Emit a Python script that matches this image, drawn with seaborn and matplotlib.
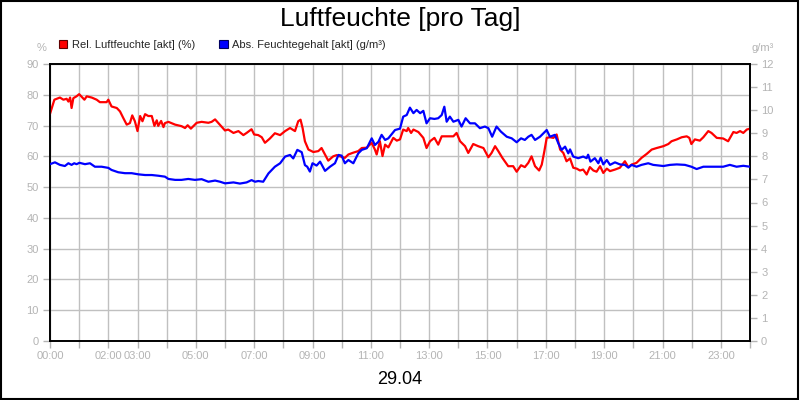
import matplotlib
matplotlib.use("Agg")
import matplotlib.pyplot as plt
from matplotlib.patches import Patch, Rectangle
import seaborn as sns
import pandas as pd

# ---------------- data ----------------
rel_hours = [0.00, 0.15, 0.34, 0.46, 0.57, 0.63, 0.69, 0.74, 0.80, 0.91, 1.00, 1.18, 1.26, 1.43, 1.60,
             1.71, 1.94, 2.00, 2.11, 2.29, 2.40, 2.51, 2.63, 2.74, 2.82, 2.91, 3.00, 3.09, 3.17, 3.26,
             3.37, 3.49, 3.58, 3.66, 3.71, 3.81, 3.89, 3.94, 4.06, 4.29, 4.51, 4.63, 4.72, 4.83, 5.03,
             5.20, 5.43, 5.54, 5.66, 5.83, 6.00, 6.11, 6.29, 6.46, 6.63, 6.74, 6.91, 7.00, 7.14, 7.26,
             7.37, 7.54, 7.71, 7.89, 8.06, 8.23, 8.40, 8.51, 8.59, 8.66, 8.74, 8.86, 9.03, 9.20, 9.31,
             9.43, 9.54, 9.71, 9.83, 9.94, 10.11, 10.23, 10.40, 10.57, 10.69, 10.86, 11.03, 11.14, 11.20,
             11.31, 11.40, 11.49, 11.60, 11.77, 11.89, 12.00, 12.11, 12.23, 12.28, 12.38, 12.46, 12.63,
             12.80, 12.91, 13.03, 13.18, 13.31, 13.43, 13.66, 13.83, 13.94, 14.06, 14.23, 14.34, 14.51,
             14.68, 14.86, 15.03, 15.14, 15.26, 15.37, 15.51, 15.71, 15.88, 16.00, 16.15, 16.28, 16.40,
             16.51, 16.63, 16.77, 16.86, 16.95, 17.03, 17.14, 17.26, 17.37, 17.49, 17.60, 17.71, 17.83,
             17.94, 18.06, 18.17, 18.28, 18.40, 18.51, 18.63, 18.74, 18.86, 18.97, 19.09, 19.20, 19.37,
             19.54, 19.71, 19.83, 19.94, 20.11, 20.28, 20.46, 20.63, 20.80, 21.03, 21.20, 21.31, 21.49,
             21.66, 21.83, 21.92, 21.99, 22.11, 22.28, 22.40, 22.57, 22.68, 22.86, 23.08, 23.25, 23.43,
             23.54, 23.66, 23.77, 23.89, 24.00]
rel_values = [73.8, 78.4, 79.1, 78.4, 78.7, 77.8, 79.1, 75.7, 78.9, 79.5, 80.2, 78.4, 79.5, 79.1, 78.4,
              77.6, 77.6, 78.4, 76.2, 75.7, 74.6, 72.5, 70.3, 70.8, 73.3, 71.4, 68.2, 73.1, 71.4, 73.7,
              73.1, 73.1, 69.9, 71.7, 69.9, 71.5, 69.5, 70.8, 71.2, 70.3, 69.8, 69.2, 70.1, 69.0, 70.9,
              71.2, 70.9, 71.2, 72.0, 70.2, 68.4, 68.7, 67.6, 68.2, 66.9, 67.6, 68.8, 67.1, 66.9, 66.2,
              64.4, 65.8, 67.5, 66.9, 68.2, 69.2, 68.2, 71.4, 71.9, 69.2, 64.9, 62.2, 61.4, 61.7, 62.7,
              60.6, 58.6, 60.0, 60.4, 60.0, 59.5, 60.6, 61.2, 61.7, 62.7, 62.8, 64.4, 62.2, 60.6,
              64.9, 60.1, 63.8, 62.9, 66.0, 65.1, 65.5, 68.7, 68.2, 69.2, 67.6, 68.7, 67.9,
              66.0, 62.7, 64.9, 66.0, 63.8, 66.5, 66.5, 66.5, 67.6, 64.9, 63.3, 61.1, 64.0,
              63.3, 62.7, 59.7, 61.1, 63.3, 61.7, 59.5, 56.8, 56.8, 55.0, 57.1, 56.5, 57.9,
              60.0, 56.8, 55.4, 57.3, 61.7, 66.0, 66.2, 66.0, 67.1, 62.2, 61.1, 58.4, 59.3,
              56.3, 56.0, 55.4, 55.7, 54.1, 56.5, 55.4, 55.0, 56.8, 54.6, 56.0, 55.2, 55.7,
              56.3, 58.4, 56.5, 57.3, 57.9, 59.5, 60.8, 62.2, 62.7, 63.3, 64.0, 64.9, 65.5,
              66.2, 66.5, 66.0, 64.0, 65.5, 65.1, 66.2, 68.2, 67.6, 66.0, 65.8, 64.9, 67.9,
              67.6, 68.2, 67.6, 68.7, 69.0]

abs_hours = [0.00, 0.17, 0.34, 0.51, 0.63, 0.74, 0.83, 0.91, 1.01, 1.20, 1.37, 1.54, 1.77, 2.00, 2.11,
             2.34, 2.57, 2.80, 3.03, 3.26, 3.49, 3.71, 3.94, 4.06, 4.29, 4.51, 4.74, 4.97, 5.20, 5.43,
             5.66, 5.83, 6.00, 6.29, 6.51, 6.74, 6.91, 7.03, 7.14, 7.31, 7.49, 7.71, 7.89, 8.06, 8.23,
             8.34, 8.48, 8.63, 8.74, 8.82, 8.91, 9.00, 9.14, 9.26, 9.43, 9.60, 9.77, 9.89, 10.00, 10.11,
             10.23, 10.40, 10.57, 10.69, 10.86, 11.03, 11.14, 11.26, 11.37, 11.49, 11.60, 11.71, 11.83,
             12.00, 12.11, 12.23, 12.34, 12.46, 12.57, 12.69, 12.80, 12.91, 13.03, 13.18, 13.31, 13.43,
             13.52, 13.60, 13.71, 13.83, 14.00, 14.11, 14.25, 14.40, 14.57, 14.74, 14.91, 15.03, 15.16,
             15.31, 15.46, 15.66, 15.83, 16.00, 16.15, 16.28, 16.40, 16.51, 16.63, 16.80, 17.03, 17.14,
             17.31, 17.43, 17.54, 17.66, 17.77, 17.83, 17.94, 18.11, 18.28, 18.40, 18.45, 18.53, 18.68,
             18.80, 18.88, 18.97, 19.09, 19.20, 19.37, 19.54, 19.71, 19.83, 19.94, 20.11, 20.28, 20.51,
             20.68, 21.03, 21.26, 21.49, 21.77, 21.99, 22.17, 22.40, 22.74, 23.08, 23.31, 23.54, 23.77,
             24.00]
abs_values = [7.66, 7.74, 7.63, 7.58, 7.70, 7.63, 7.70, 7.66, 7.72, 7.66, 7.70, 7.55, 7.55, 7.50, 7.41,
              7.31, 7.27, 7.27, 7.22, 7.19, 7.19, 7.16, 7.12, 7.02, 6.98, 6.98, 7.02, 6.98, 7.01, 6.90,
              6.95, 6.90, 6.83, 6.87, 6.82, 6.87, 6.97, 6.90, 6.93, 6.90, 7.26, 7.55, 7.70, 7.99, 8.06,
              7.91, 8.28, 8.18, 7.62, 7.55, 7.34, 7.70, 7.60, 7.77, 7.37, 7.55, 7.70, 8.06, 8.03, 7.70,
              7.84, 7.70, 8.13, 8.28, 8.35, 8.78, 8.49, 8.63, 8.93, 8.71, 8.78, 8.95, 9.14,
              9.20, 9.72, 9.79, 10.11, 9.87, 10.01, 9.87, 9.97, 9.43, 9.65, 9.62, 9.65, 9.79,
              10.15, 9.50, 9.72, 9.50, 9.58, 9.29, 9.65, 9.43, 9.43, 9.22, 9.29, 9.22, 8.85,
              9.29, 9.07, 8.85, 8.78, 8.61, 8.78, 8.71, 8.85, 8.93, 8.71, 8.85, 9.14, 8.85,
              8.93, 8.56, 8.28, 8.42, 8.13, 8.30, 7.99, 7.92, 7.99, 7.92, 8.07, 7.77, 7.92,
              7.70, 7.94, 7.65, 7.84, 7.63, 7.74, 7.65, 7.63, 7.51, 7.63, 7.55, 7.63, 7.70,
              7.63, 7.58, 7.63, 7.65, 7.63, 7.55, 7.45, 7.55, 7.55, 7.55, 7.63, 7.55, 7.59,
              7.55]

x_tick_hours = list(range(0, 25))
x_tick_labels = ["00:00", "", "02:00", "03:00", "", "05:00", "", "07:00", "", "09:00", "", "11:00", "",
                 "13:00", "", "15:00", "", "17:00", "", "19:00", "", "21:00", "", "23:00", ""]
left_ticks = list(range(0, 91, 10))
right_ticks = list(range(0, 13))

title_text = "Luftfeuchte [pro Tag]"
date_text = "29.04"
rel_label = "Rel. Luftfeuchte [akt] (%)"
abs_label = "Abs. Feuchtegehalt [akt] (g/m³)"
left_unit = "%"
right_unit = "g/m³"

# ---------------- style ----------------
sns.set_theme(style="white")
plt.rcParams["font.family"] = ["Liberation Sans", "DejaVu Sans"]

RED = "#ff0000"
BLUE = "#0000ff"
GRAY = "#b4b4b4"
GRID = "#c0c0c0"

df_rel = pd.DataFrame({"h": rel_hours, "v": rel_values})
df_abs = pd.DataFrame({"h": abs_hours, "v": abs_values})

fig = plt.figure(figsize=(8, 4), dpi=100)
ax = fig.add_axes([50 / 800, 1 - 341 / 400, 700 / 800, 277 / 400])
ax2 = ax.twinx()

sns.lineplot(data=df_rel, x="h", y="v", ax=ax, color=RED, linewidth=1.6,
             estimator=None, sort=False, zorder=3)
sns.lineplot(data=df_abs, x="h", y="v", ax=ax2, color=BLUE, linewidth=1.6,
             estimator=None, sort=False, zorder=3)

ax.set_xlim(0, 24)
ax.set_ylim(0, 90)
ax2.set_ylim(0, 12)
ax.set_xticks(x_tick_hours)
ax.set_xticklabels(x_tick_labels)
ax.set_yticks(left_ticks)
ax2.set_yticks(right_ticks)
ax.set_xlabel("")
ax.set_ylabel("")
ax2.set_ylabel("")

ax.grid(True, color=GRID, linewidth=1.0)
ax.set_axisbelow(True)
ax2.grid(False)

for a in (ax, ax2):
    for s in a.spines.values():
        s.set_color("black")
        s.set_linewidth(1.2)
        s.set_visible(True)

ax.tick_params(axis="both", which="major", colors=GRAY, labelsize=8, length=5, width=1,
               direction="out", pad=2, labelcolor=GRAY)
ax.tick_params(axis="y", left=True, pad=3)
ax.tick_params(axis="x", bottom=True)
ax2.tick_params(axis="y", right=True, colors=GRAY, labelsize=8, length=5, width=1,
                direction="out", pad=3, labelcolor=GRAY)

# units
fig.text(42 / 800, 1 - 48 / 400, left_unit, color=GRAY, fontsize=8, ha="center", va="center")
fig.text(763 / 800, 1 - 48 / 400, right_unit, color=GRAY, fontsize=8, ha="center", va="center")

# title and date
fig.text(0.5, 1 - 19 / 400, title_text, fontsize=19, ha="center", va="center", color="black")
fig.text(0.5, 1 - 379 / 400, date_text, fontsize=13, ha="center", va="center", color="black")

# legend
handles = [Patch(facecolor=RED, edgecolor="#600000", linewidth=0.8, label=rel_label),
           Patch(facecolor=BLUE, edgecolor="#000060", linewidth=0.8, label=abs_label)]
fig.legend(handles=handles, loc="center left", bbox_to_anchor=(59 / 800, 1 - 45 / 400),
           ncol=2, frameon=False, fontsize=8, handlelength=0.75, handleheight=0.75,
           handletextpad=0.4, columnspacing=2.2, borderpad=0, borderaxespad=0)

# figure border
fig.patches.append(Rectangle((0.001, 0.002), 0.997, 0.996, transform=fig.transFigure,
                             fill=False, edgecolor="black", linewidth=1.5))

fig.savefig("out.png", dpi=100, facecolor="white")
